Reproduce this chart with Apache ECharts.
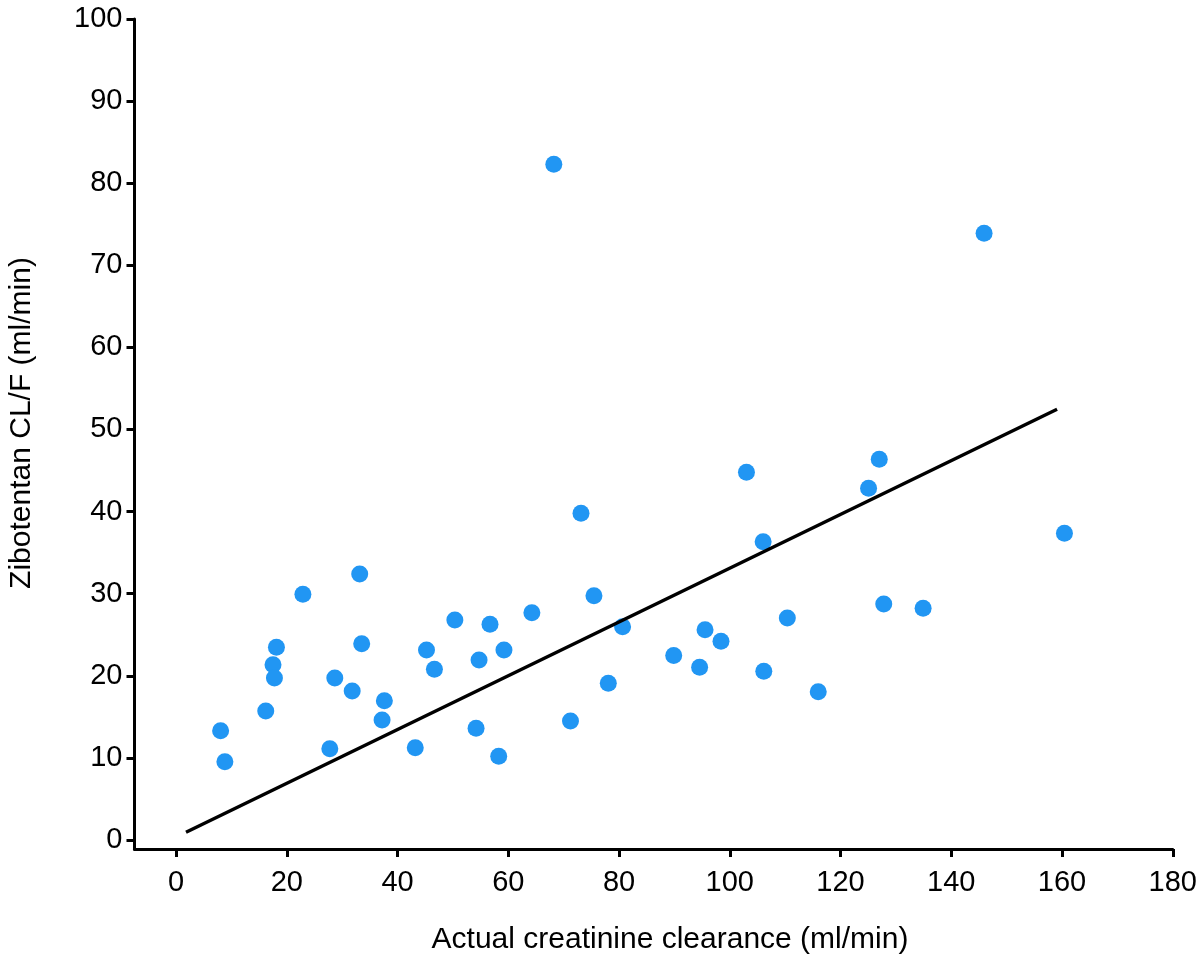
<!DOCTYPE html>
<html>
<head>
<meta charset="utf-8">
<script src="https://cdn.jsdelivr.net/npm/echarts@6/dist/echarts.min.js"></script>
<style>
html,body{margin:0;padding:0;background:#fff;}
#chart{width:1200px;height:955px;}
</style>
</head>
<body>
<div id="chart"></div>
<script>
// Actual creatinine clearance (ml/min)
const clearanceX = [8.05, 8.82, 16.2, 17.51, 17.77, 18.13, 22.91, 27.77, 28.67, 31.81,
  33.17, 33.53, 37.21, 37.62, 43.2, 45.23, 46.66, 50.35, 54.18, 54.72,
  56.7, 58.27, 59.22, 64.26, 68.22, 71.23, 73.13, 75.47, 78.06, 80.64,
  89.87, 94.55, 95.53, 98.41, 103.01, 106.02, 106.14, 110.39, 115.97, 125.06,
  126.99, 127.8, 134.91, 145.92, 160.43];
// Zibotentan CL/F (ml/min)
const zibotentanCL = [13.31, 9.54, 15.71, 21.35, 19.73, 23.47, 29.93, 11.12, 19.73, 18.15,
  32.4, 23.91, 14.62, 16.97, 11.24, 23.14, 20.79, 26.8, 13.6, 21.92,
  26.27, 10.19, 23.14, 27.69, 82.3, 14.49, 39.79, 29.76, 19.09, 25.98,
  22.47, 21.04, 25.61, 24.2, 44.79, 36.33, 20.55, 27.04, 18.06, 42.84,
  46.37, 28.75, 28.22, 73.9, 37.36];
// Regression line end points
const fitX = [1.8, 159.1];
const fitY = [0.94, 52.46];
// Tick labels
const xTicks = [0, 20, 40, 60, 80, 100, 120, 140, 160, 180];
const yTicks = [0, 10, 20, 30, 40, 50, 60, 70, 80, 90, 100];
const xTitle = 'Actual creatinine clearance (ml/min)';
const yTitle = 'Zibotentan CL/F (ml/min)';

const points = clearanceX.map((x, i) => [x, zibotentanCL[i]]);
const fitLine = fitX.map((x, i) => [x, fitY[i]]);

const FONT = "'Liberation Sans', Arial, Helvetica, sans-serif";
const chart = echarts.init(document.getElementById('chart'), null, {renderer: 'canvas'});
chart.setOption({
  animation: false,
  backgroundColor: '#ffffff',
  grid: {left: 134.5, right: 24, top: 19, bottom: 106, containLabel: false},
  xAxis: {
    type: 'value', min: -7.5, max: 180,
    axisLine: {onZero: false, lineStyle: {color: '#000', width: 3}},
    axisTick: {show: true, length: 8, lineStyle: {color: '#000', width: 3}, customValues: xTicks},
    axisLabel: {customValues: xTicks, color: '#000', fontSize: 29, fontFamily: FONT, margin: 19},
    splitLine: {show: false}
  },
  yAxis: {
    type: 'value', min: -1.1, max: 100,
    axisLine: {onZero: false, lineStyle: {color: '#000', width: 3}},
    axisTick: {show: true, length: 8, lineStyle: {color: '#000', width: 3}, customValues: yTicks},
    axisLabel: {customValues: yTicks, color: '#000', fontSize: 29, fontFamily: FONT, margin: 12},
    splitLine: {show: false}
  },
  graphic: [
    {type: 'text', x: 670, y: 940, style: {text: xTitle, fill: '#000', font: '30px ' + FONT, align: 'center', verticalAlign: 'middle'}},
    {type: 'text', x: 22, y: 423, rotation: Math.PI / 2, style: {text: yTitle, fill: '#000', font: '30px ' + FONT, align: 'center', verticalAlign: 'middle'}}
  ],
  series: [
    {type: 'scatter', data: points, symbol: 'circle', symbolSize: 17,
     itemStyle: {color: '#2196f3', opacity: 1}, z: 2},
    {type: 'line', data: fitLine, symbol: 'none', silent: true,
     lineStyle: {color: '#000', width: 3.5}, z: 3}
  ]
});
</script>
</body>
</html>
